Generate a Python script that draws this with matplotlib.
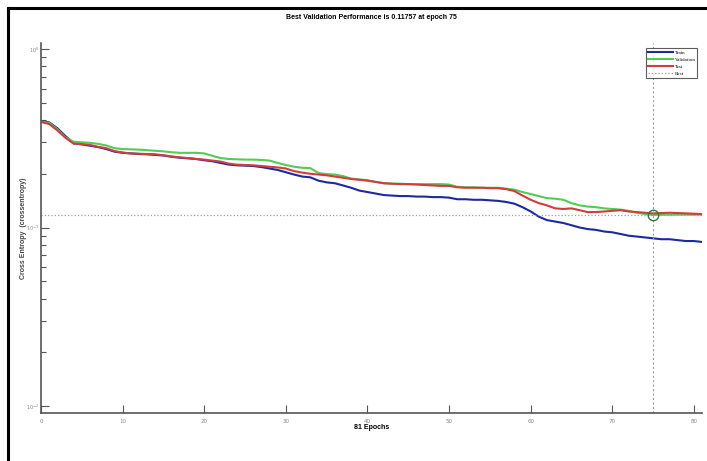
import numpy as np
import matplotlib
matplotlib.use("Agg")
import matplotlib.pyplot as plt
from matplotlib.lines import Line2D
from matplotlib.ticker import LogLocator, NullFormatter, FixedLocator

# Cross-entropy per epoch (epochs 0..81)
epochs = list(range(82))
train = [0.395, 0.388, 0.360, 0.325, 0.296, 0.292, 0.287, 0.282, 0.275, 0.266,
         0.262, 0.260, 0.258, 0.257, 0.255, 0.253, 0.249, 0.246, 0.244, 0.242,
         0.238, 0.235, 0.230, 0.225, 0.223, 0.222, 0.221, 0.218, 0.214, 0.210,
         0.204, 0.198, 0.193, 0.191, 0.183, 0.179, 0.177, 0.172, 0.167, 0.161,
         0.158, 0.155, 0.152, 0.151, 0.150, 0.150, 0.149, 0.149, 0.148, 0.148,
         0.147, 0.144, 0.144, 0.143, 0.143, 0.142, 0.141, 0.139, 0.136, 0.130,
         0.123, 0.115, 0.110, 0.108, 0.106, 0.103, 0.100, 0.098, 0.097, 0.095,
         0.094, 0.092, 0.090, 0.089, 0.088, 0.087, 0.086, 0.086, 0.085, 0.084,
         0.084, 0.083]
validation = [0.392, 0.385, 0.355, 0.320, 0.302, 0.300, 0.298, 0.294, 0.288, 0.278,
              0.275, 0.274, 0.273, 0.271, 0.269, 0.267, 0.264, 0.262, 0.262, 0.262,
              0.260, 0.252, 0.245, 0.242, 0.241, 0.240, 0.240, 0.239, 0.237, 0.230,
              0.224, 0.219, 0.216, 0.215, 0.202, 0.199, 0.198, 0.194, 0.188, 0.186,
              0.184, 0.180, 0.177, 0.176, 0.176, 0.175, 0.175, 0.175, 0.175, 0.175,
              0.174, 0.169, 0.168, 0.168, 0.167, 0.167, 0.167, 0.165, 0.163, 0.158,
              0.154, 0.150, 0.146, 0.145, 0.143, 0.137, 0.133, 0.131, 0.130, 0.128,
              0.127, 0.126, 0.124, 0.121, 0.119, 0.11757, 0.1178, 0.1180, 0.1181, 0.1181,
              0.1180, 0.1182]
test = [0.390, 0.380, 0.350, 0.318, 0.295, 0.293, 0.290, 0.283, 0.278, 0.268,
        0.263, 0.260, 0.259, 0.258, 0.257, 0.254, 0.250, 0.247, 0.245, 0.242,
        0.240, 0.237, 0.234, 0.228, 0.225, 0.224, 0.223, 0.221, 0.219, 0.217,
        0.214, 0.207, 0.203, 0.200, 0.198, 0.196, 0.193, 0.190, 0.187, 0.185,
        0.183, 0.180, 0.177, 0.176, 0.175, 0.175, 0.174, 0.173, 0.172, 0.171,
        0.171, 0.168, 0.167, 0.167, 0.167, 0.166, 0.166, 0.164, 0.160, 0.151,
        0.143, 0.137, 0.133, 0.128, 0.127, 0.128, 0.125, 0.122, 0.122, 0.123,
        0.124, 0.125, 0.123, 0.122, 0.121, 0.120, 0.1205, 0.121, 0.1205, 0.120,
        0.1195, 0.119]

best_epoch = 75
best_perf = 0.11757
x_ticks = [0, 10, 20, 30, 40, 50, 60, 70, 80]

fig = plt.figure(figsize=(7.07, 4.61), dpi=100)
fig.patch.set_facecolor("white")
ax = fig.add_axes([0.058, 0.104, 0.935, 0.803])

c_train = "#1c2a9e"
c_val = "#52cc52"
c_test = "#d23c3c"
c_best = "#a0a0a0"

ax.semilogy(epochs, train, color=c_train, lw=1.5, label="Train")
ax.semilogy(epochs, validation, color=c_val, lw=1.5, label="Validation")
ax.semilogy(epochs, test, color=c_test, lw=1.5, label="Test")
ax.axhline(best_perf, color=c_best, ls=":", lw=0.9, label="Best")
ax.axvline(best_epoch, color=c_best, ls=(0, (2, 2)), lw=0.8)
ax.plot([best_epoch], [best_perf], "o", ms=7.5, mfc="none", mec="#2f7a32", mew=1.0)

ax.set_xlim(0, 81)
ax.set_ylim(10 ** -2.039, 10 ** 0.034)

for s in ["top", "right"]:
    ax.spines[s].set_visible(False)
for s in ["left", "bottom"]:
    ax.spines[s].set_color("#555555")
    ax.spines[s].set_linewidth(1.2)

ax.xaxis.set_major_locator(FixedLocator(x_ticks))
ax.yaxis.set_major_locator(LogLocator(base=10, numticks=10))
ax.yaxis.set_minor_locator(LogLocator(base=10, subs=np.arange(2, 10), numticks=20))
ax.yaxis.set_minor_formatter(NullFormatter())
ax.tick_params(axis="both", which="major", direction="in", length=6, width=0.8,
               colors="#555555", labelsize=4, labelcolor="#888888")
ax.tick_params(axis="x", which="major", pad=4)
ax.tick_params(axis="y", which="major", pad=1.5, labelsize=3.5)
ax.tick_params(axis="y", which="minor", direction="in", length=3.5, width=0.8,
               colors="#555555")
ax.tick_params(axis="x", which="minor", length=0)

ax.set_title("Best Validation Performance is 0.11757 at epoch 75",
             fontsize=5, fontweight="bold", family="Liberation Sans", pad=17)
ax.set_xlabel("81 Epochs", fontsize=5, fontweight="bold",
              family="Liberation Sans", labelpad=0.5)
ax.set_ylabel("Cross Entropy  (crossentropy)", fontsize=5, fontweight="bold",
              family="Liberation Sans", color="#444444", labelpad=-1)

leg = ax.legend(loc="upper right", bbox_to_anchor=(0.993, 0.985),
                prop={"family": "Liberation Serif", "size": 3.6},
                frameon=True, fancybox=False, handlelength=5.0,
                handletextpad=0.3, borderpad=0.4, labelspacing=0.5,
                borderaxespad=0)
leg.get_frame().set_edgecolor("#333333")
leg.get_frame().set_linewidth(0.8)

# page frame on the left and top edges
fig.add_artist(Line2D([0.0113, 0.0113], [0.0, 0.983], color="black", lw=2.2,
                      transform=fig.transFigure))
fig.add_artist(Line2D([0.0113, 1.0], [0.983, 0.983], color="black", lw=2.2,
                      transform=fig.transFigure))

fig.savefig("out.png", dpi=100)
